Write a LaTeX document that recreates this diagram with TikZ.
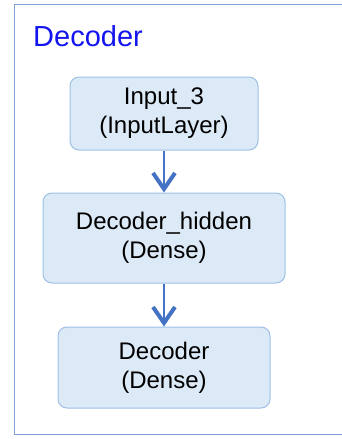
\documentclass[tikz,border=0pt]{standalone}
\usepackage{fontspec}
\setmainfont{Liberation Sans}
\usetikzlibrary{arrows.meta}
\definecolor{framec}{HTML}{7F9FD8}
\definecolor{boxfill}{HTML}{DCE9F6}
\definecolor{boxdraw}{HTML}{9DC0E6}
\definecolor{arrc}{HTML}{4472C4}
\definecolor{titlec}{HTML}{1414F0}
\begin{document}
\begin{tikzpicture}[x=1pt,y=-1pt,
  layerbox/.style={draw=boxdraw, fill=boxfill, line width=1pt, rounded corners=9pt,
    align=center, inner sep=0pt, font=\fontsize{24}{29}\selectfont},
  flow/.style={draw=arrc, line width=2.2pt,
    -{Straight Barb[length=16pt,width=22pt,line width=4pt]}}]
\useasboundingbox (0,0) rectangle (341,439);
\draw[framec, line width=1.5pt] (360,4.5) -- (14.5,4.5) -- (14.5,434.5) -- (360,434.5);
\node[anchor=base west, text=titlec, font=\fontsize{29}{34}\selectfont, inner sep=0pt] (title) at (33,46) {Decoder};
\node[layerbox, minimum width=188pt, minimum height=73pt] (in) at (164,113.5) {Input\_3\\(InputLayer)};
\node[layerbox, minimum width=242pt, minimum height=90pt] (hid) at (164,238) {Decoder\_hidden\\(Dense)};
\node[layerbox, minimum width=212pt, minimum height=81pt] (dec) at (164,367.5) {Decoder\\(Dense)};
\draw[flow] (in.south) -- (hid.north);
\draw[flow] (hid.south) -- (dec.north);
\end{tikzpicture}
\end{document}
